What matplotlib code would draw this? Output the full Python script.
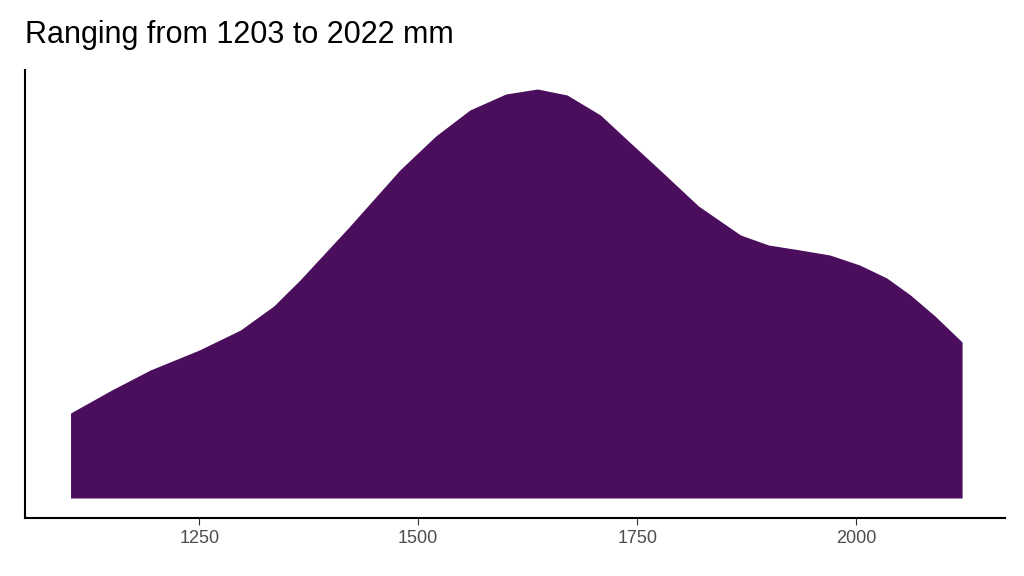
import matplotlib
matplotlib.use("Agg")
import matplotlib.pyplot as plt

x = [1103, 1150, 1194, 1250, 1297, 1335, 1365, 1420, 1479, 1520, 1559, 1600, 1636, 1670, 1708, 1740, 1776, 1820, 1868, 1900, 1936, 1970, 2004, 2035, 2062, 2090, 2121]
y = [85, 108, 128, 148, 168, 192, 218, 270, 328, 362, 388, 404, 409, 403, 383, 357, 328, 292, 263, 253, 248, 243, 233, 220, 203, 182, 156]
ticks = [1250, 1500, 1750, 2000]
title = "Ranging from 1203 to 2022 mm"

fig = plt.figure(figsize=(10.24, 5.76), dpi=100)
ax = fig.add_axes([25/1024, 58/576, 980/1024, 448/576])
ax.fill_between(x, 0, y, color="#4a0e5c", lw=0)
ax.set_xlim(1051, 2170)
ax.set_ylim(-20, 428)
ax.set_xticks(ticks)
ax.set_xticklabels([str(t) for t in ticks], fontsize=13, color="#4d4d4d", family="Liberation Sans")
ax.set_yticks([])
ax.tick_params(axis="x", length=5, color="#333333")
for s in ["top", "right"]:
    ax.spines[s].set_visible(False)
for s in ["left", "bottom"]:
    ax.spines[s].set_linewidth(1.5)
fig.text(25/1024, 1 - 35/576, title, fontsize=22, va="center", ha="left", family="Liberation Sans")
fig.savefig("out.png", dpi=100)
